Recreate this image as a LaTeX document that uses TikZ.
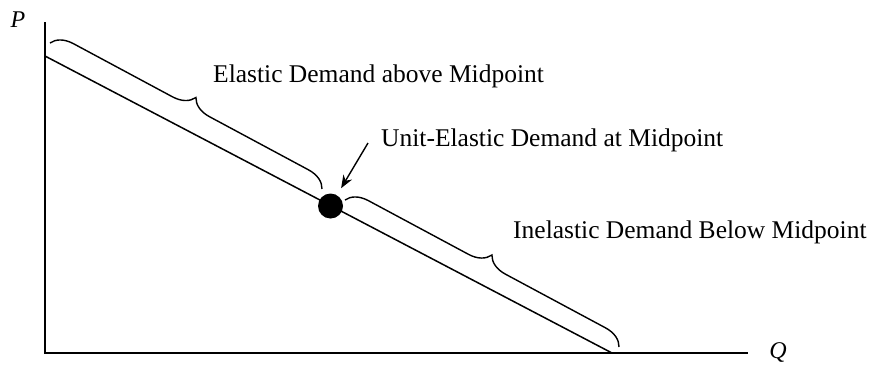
\documentclass[tikz,border=0pt]{standalone}
\usepackage{fontspec}
\setmainfont{Liberation Serif}
\usepackage{tikz}
\usetikzlibrary{arrows.meta,decorations.pathreplacing}

\begin{document}
\begin{tikzpicture}[
  x=1bp, y=-1bp,
  font=\fontsize{25.5bp}{30bp}\selectfont,
  axis/.style={line width=1.5bp},
  curve/.style={line width=1.5bp},
  bracket/.style={line width=1.4bp, decorate, decoration={brace, amplitude=21bp}},
  lbl/.style={anchor=base west, inner sep=0pt},
  axlbl/.style={anchor=base, inner sep=0pt, font=\fontsize{24bp}{28bp}\selectfont\itshape},
  arrow/.style={-{Stealth[length=13bp,width=10bp]}, line width=1.4bp, shorten >=8bp}
]
\useasboundingbox (0,0) rectangle (870,368);
% axes and demand line
\coordinate (origin) at (45,353);
\coordinate (ytop) at (45,22);
\coordinate (xend) at (748,353);
\coordinate (dA) at (45,56);
\coordinate (dB) at (612,353);
\draw[axis] (ytop) -- (origin) -- (xend);
\node[axlbl] (P) at (18,27) {P};
\node[axlbl] (Q) at (778,358) {Q};
\draw[curve] (dA) -- (dB);
\node[circle, fill, inner sep=0pt, minimum size=25bp] (mid) at (330.5,206) {};
% braces
\coordinate (eA) at (50,43);
\coordinate (eB) at (322,189);
\coordinate (iA) at (345,200);
\coordinate (iB) at (619,347);
\draw[bracket] (eA) -- (eB);
\draw[bracket] (iA) -- (iB);
% labels
\node[lbl] (elastic) at (213,82) {Elastic Demand above Midpoint};
\node[lbl] (unit) at (381,146) {Unit-Elastic Demand at Midpoint};
\node[lbl] (inelastic) at (513,238) {Inelastic Demand Below Midpoint};
\coordinate (arrS) at (368,143);
\draw[arrow] (arrS) -- (mid);
\end{tikzpicture}
\end{document}
